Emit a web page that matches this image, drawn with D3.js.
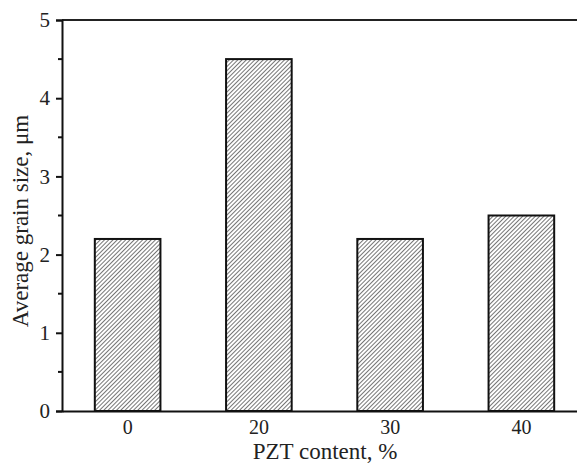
<!DOCTYPE html>
<html>
<head>
<meta charset="utf-8">
<script src="https://cdn.jsdelivr.net/npm/d3@7"></script>
<style>
  body { margin: 0; background: #fff; }
  svg { display: block; }
</style>
</head>
<body>
<svg id="chart"></svg>
<script>
const categories = ['0', '20', '30', '40'];
const grainSize = [2.2, 4.5, 2.2, 2.5];
const yMajorTicks = [0, 1, 2, 3, 4, 5];
const yMinorTicks = [0.5, 1.5, 2.5, 3.5, 4.5];

const width = 577;
const height = 463;
const margin = { top: 20, right: -10, bottom: 52, left: 62 };

const svg = d3.select('#chart')
  .attr('width', width)
  .attr('height', height);

const defs = svg.append('defs');
defs.append('pattern')
  .attr('id', 'hatch')
  .attr('patternUnits', 'userSpaceOnUse')
  .attr('width', 3)
  .attr('height', 3)
  .attr('patternTransform', 'rotate(45)')
  .append('line')
  .attr('x1', 0).attr('y1', 0)
  .attr('x2', 0).attr('y2', 3)
  .attr('stroke', '#2a2a2a')
  .attr('stroke-width', 1.3);

const x = d3.scaleBand()
  .domain(categories)
  .range([margin.left, width - margin.right])
  .paddingInner(0.5)
  .paddingOuter(0.25);

const y = d3.scaleLinear()
  .domain([0, 5])
  .range([height - margin.bottom, margin.top]);

const serif = '"Liberation Serif", "Times New Roman", serif';

// bars
svg.selectAll('.bar')
  .data(grainSize)
  .enter()
  .append('rect')
  .attr('class', 'bar')
  .attr('x', (d, i) => x(categories[i]))
  .attr('y', d => y(d))
  .attr('width', x.bandwidth())
  .attr('height', d => y(0) - y(d))
  .attr('fill', 'url(#hatch)')
  .attr('stroke', '#111')
  .attr('stroke-width', 2);

// top frame line
svg.append('line')
  .attr('x1', margin.left).attr('x2', width)
  .attr('y1', y(5)).attr('y2', y(5))
  .attr('stroke', '#222')
  .attr('stroke-width', 2);

// y axis
const yAxis = d3.axisLeft(y)
  .tickValues(yMajorTicks)
  .tickFormat(d3.format('d'))
  .tickSize(6)
  .tickPadding(6);

const yG = svg.append('g')
  .attr('transform', `translate(${margin.left},0)`)
  .call(yAxis);
yG.select('.domain').attr('stroke', '#111').attr('stroke-width', 2);
yG.selectAll('.tick line').attr('stroke', '#111').attr('stroke-width', 2);
yG.selectAll('.tick text')
  .attr('fill', '#222')
  .attr('font-size', '21px')
  .attr('font-family', serif);

svg.append('g')
  .selectAll('line')
  .data(yMinorTicks)
  .enter()
  .append('line')
  .attr('x1', margin.left - 4).attr('x2', margin.left)
  .attr('y1', d => y(d)).attr('y2', d => y(d))
  .attr('stroke', '#111')
  .attr('stroke-width', 2);

// x axis
const xAxis = d3.axisBottom(x).tickSize(0).tickPadding(9).tickSizeOuter(0);
const xG = svg.append('g')
  .attr('transform', `translate(0,${y(0)})`)
  .call(xAxis);
xG.select('.domain').attr('stroke', '#111').attr('stroke-width', 2);
xG.selectAll('.tick text')
  .attr('fill', '#222')
  .attr('font-size', '20px')
  .attr('font-family', serif);

// axis titles
svg.append('text')
  .attr('x', 325)
  .attr('y', 459)
  .attr('text-anchor', 'middle')
  .attr('font-family', serif)
  .attr('font-size', '23px')
  .attr('fill', '#222')
  .text('PZT content, %');

svg.append('text')
  .attr('transform', `translate(28,221) rotate(-90)`)
  .attr('text-anchor', 'middle')
  .attr('font-family', serif)
  .attr('font-size', '23px')
  .attr('fill', '#222')
  .text('Average grain size, μm');
</script>
</body>
</html>
